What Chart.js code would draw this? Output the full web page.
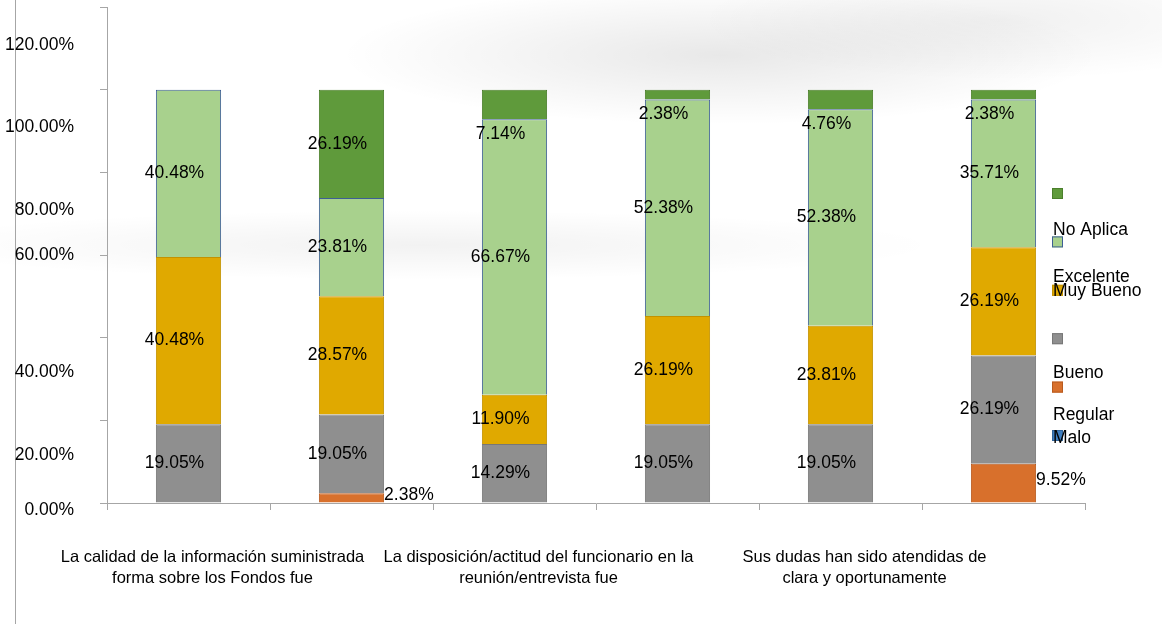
<!DOCTYPE html>
<html>
<head>
<meta charset="utf-8">
<script src="https://cdn.jsdelivr.net/npm/chart.js@4"></script>
<style>
  body { margin: 0; background: #fff; }
  #wrap {
    width: 1162px; height: 624px; position: relative;
    background:
      radial-gradient(ellipse 380px 70px at 720px 55px, rgba(0,0,0,0.09), rgba(0,0,0,0)),
      radial-gradient(ellipse 520px 35px at 420px 245px, rgba(0,0,0,0.05), rgba(0,0,0,0)),
      radial-gradient(ellipse 300px 60px at 1000px 20px, rgba(0,0,0,0.06), rgba(0,0,0,0));
  }
</style>
</head>
<body>
<div id="wrap"><canvas id="chart" width="1162" height="624"></canvas></div>
<script>
// Categories (only every other label is visible in the original)
const categories = [
    ['La calidad de la información suministrada', 'forma sobre los Fondos fue'],
    '',
    ['La disposición/actitud del funcionario en la', 'reunión/entrevista fue'],
    '',
    ['Sus dudas han sido atendidas de', 'clara y oportunamente'],
    ''
];

// Series values (%)
const malo      = [0, 0, 0, 0, 0, 0];
const regular   = [0, 2.38, 0, 0, 0, 9.52];
const bueno     = [19.05, 19.05, 14.29, 19.05, 19.05, 26.19];
const muyBueno  = [40.48, 28.57, 11.90, 26.19, 23.81, 26.19];
const excelente = [40.48, 23.81, 66.67, 52.38, 52.38, 35.71];
const noAplica  = [0, 26.19, 7.14, 2.38, 4.76, 2.38];

// Y axis tick values
const yTicks = [0, 20, 40, 60, 80, 100, 120];

const FONT = 'Liberation Sans, Arial, sans-serif';
const FS = 17.5;

// Layout tweaks copied from the odd placement in the original
const yLabelShift = [7, 35, 35, 0, 38, 38, 38];
const legendOrder = [5, 4, 3, 2, 1, 0];
const legendTextShift = [37, 36, 1, 35, 29, 3];

const ctx = document.getElementById('chart').getContext('2d');

function ds(label, data, bg, border) {
    return { label: label, data: data, backgroundColor: bg, borderColor: border, borderWidth: 1 };
}

const datasets = [
    ds('Malo', malo, '#3d7dbf', '#2f649b'),
    ds('Regular', regular, '#d8702c', '#b85a1e'),
    ds('Bueno', bueno, '#8f8f8f', '#777777'),
    ds('Muy Bueno', muyBueno, '#e0a900', '#c39200'),
    ds('Excelente', excelente, '#a8d18d', '#3e5f95'),
    ds('No Aplica', noAplica, '#5f9a3b', '#4b7f2c')
];

// Value labels, left border line, shifted y labels and custom legend
const extras = {
    id: 'extras',
    beforeDraw(chart) {
        const c = chart.ctx;
        c.save();
        c.strokeStyle = '#a6a6a6';
        c.lineWidth = 1;
        c.beginPath();
        c.moveTo(15.5, 0);
        c.lineTo(15.5, 624);
        c.stroke();
        c.restore();
    },
    afterDraw(chart) {
        const c = chart.ctx;
        c.save();
        c.font = FS + 'px ' + FONT;
        c.fillStyle = '#000';

        // y tick labels
        const ys = chart.scales.y;
        c.textAlign = 'right';
        c.textBaseline = 'middle';
        yTicks.forEach((v, i) => {
            c.fillText(v.toFixed(2) + '%', 74, ys.getPixelForValue(v) + yLabelShift[i]);
        });

        // value labels
        chart.data.datasets.forEach((d, di) => {
            const meta = chart.getDatasetMeta(di);
            meta.data.forEach((bar, i) => {
                const v = d.data[i];
                if (!v) return;
                const txt = v.toFixed(2) + '%';
                const top = Math.min(bar.y, bar.base);
                const bottom = Math.max(bar.y, bar.base);
                const h = bottom - top;
                if (d.label === 'Regular') {
                    c.textAlign = 'left';
                    c.fillText(txt, bar.x + bar.width / 2, (top + bottom) / 2 - 3);
                } else if (h < 34) {
                    c.textAlign = 'center';
                    c.fillText(txt, bar.x - 14, bottom + 15);
                } else {
                    c.textAlign = 'center';
                    c.fillText(txt, bar.x - 14, (top + bottom) / 2);
                }
            });
        });

        // legend
        legendOrder.forEach((di, k) => {
            const d = chart.data.datasets[di];
            const sy = 188 + k * 48.4;
            c.fillStyle = d.backgroundColor;
            c.fillRect(1052, sy, 11, 11);
            c.strokeStyle = d.borderColor;
            c.strokeRect(1052.5, sy + 0.5, 10, 10);
            c.fillStyle = '#000';
            c.textAlign = 'left';
            c.fillText(d.label, 1053, sy + 5 + legendTextShift[k]);
        });
        c.restore();
    }
};

const chart = new Chart(ctx, {
    type: 'bar',
    data: { labels: categories, datasets: datasets },
    options: {
        responsive: false,
        animation: false,
        layout: { padding: { top: 7, right: 77, left: 0, bottom: 0 } },
        plugins: {
            legend: { display: false },
            tooltip: { enabled: false }
        },
        datasets: { bar: { categoryPercentage: 1, barPercentage: 0.4 } },
        scales: {
            x: {
                stacked: true,
                grid: { drawOnChartArea: false, drawTicks: true, tickLength: 7, color: '#a6a6a6' },
                border: { color: '#a6a6a6' },
                ticks: {
                    autoSkip: false, maxRotation: 0, minRotation: 0,
                    padding: 36, labelOffset: 24, color: '#000',
                    font: { family: FONT, size: 16.5, lineHeight: 1.33 }
                },
                afterFit(scale) {
                    scale.height = 121;
                    scale.paddingLeft = 0;
                    scale.paddingRight = 0;
                }
            },
            y: {
                stacked: true,
                min: 0, max: 120,
                ticks: { stepSize: 20, color: 'rgba(0,0,0,0)', font: { family: FONT, size: FS } },
                grid: { drawOnChartArea: false, drawTicks: true, tickLength: 7, color: '#a6a6a6' },
                border: { color: '#a6a6a6' },
                afterFit(scale) {
                    scale.width = 107;
                    scale.paddingTop = 0;
                    scale.paddingBottom = 0;
                }
            }
        }
    },
    plugins: [extras]
});
</script>
</body>
</html>
